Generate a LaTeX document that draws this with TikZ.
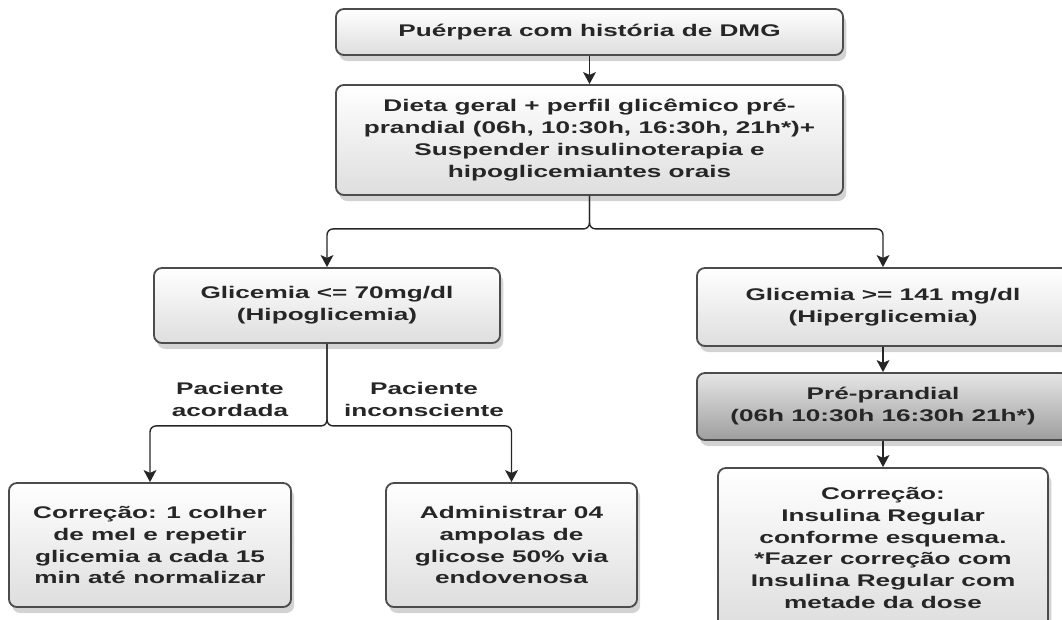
\documentclass[tikz,border=0pt]{standalone}
\usepackage{fontspec}
\setmainfont{Liberation Sans}[FakeStretch=1.55]
\usetikzlibrary{arrows.meta,shadows}

\begin{document}
\begin{tikzpicture}[
		x=0.025cm, y=-0.025cm,
		font=\fontsize{12}{15.6}\selectfont\bfseries
	]
	\tikzset{
		caixa/.style = {rectangle, rounded corners=0.2cm, draw=black!70, line width=1.3pt, align=center, top color=white, bottom color=black!13, inner sep=0pt, text=black!85, drop shadow={shadow xshift=0.08cm, shadow yshift=-0.15cm, opacity=0.35}},
		caixaesc/.style = {caixa, top color=black!10, bottom color=black!38},
		rotulo/.style = {align=center, text=black!85},
		seta/.style = {-{Stealth[length=0.3cm, width=0.32cm, inset=0.07cm]}, line width=1pt, black!85},
		ramo/.style = {seta, rounded corners=0.15cm},
	}
		\useasboundingbox (0,0) rectangle (1062,619);
		%
		\node[caixa, minimum width=12.675cm, minimum height=1.15cm] at (589.5,32) (puerpera) {Puérpera com história de DMG};
		\node[caixa, minimum width=12.675cm, minimum height=2.75cm] at (589.5,140) (dieta) {Dieta geral + perfil glicêmico pré-\\prandial (06h, 10:30h, 16:30h, 21h*)+\\Suspender insulinoterapia e\\hipoglicemiantes orais};
		%
		\node[caixa, minimum width=8.65cm, minimum height=1.875cm] at (327,305.5) (hipo) {Glicemia <= 70mg/dl\\(Hipoglicemia)};
		\node[caixa, minimum width=9.3cm, minimum height=1.95cm] at (883,307) (hiper) {Glicemia >= 141 mg/dl\\(Hiperglicemia)};
		\node[caixaesc, minimum width=9.3cm, minimum height=1.675cm] at (883,406.5) (pre) {Pré-prandial\\(06h 10:30h 16:30h 21h*)};
		\node[caixa, minimum width=8.25cm, minimum height=4cm] at (883,548) (insulina) {Correção:\\Insulina Regular\\conforme esquema.\\*Fazer correção com\\Insulina Regular com\\metade da dose};
		%
		\node[caixa, minimum width=7.05cm, minimum height=3.1cm] at (150,545) (mel) {Correção: 1 colher\\de mel e repetir\\glicemia a cada 15\\min até normalizar};
		\node[caixa, minimum width=6.275cm, minimum height=3.1cm] at (511.5,545) (glicose) {Administrar 04\\ampolas de\\glicose 50\% via\\endovenosa};
		%
		\node[rotulo] at (230,399) (acordada) {Paciente\\acordada};
		\node[rotulo] at (424,399) (inconsciente) {Paciente\\inconsciente};
		%
		\draw[seta] (puerpera) -- (dieta);
		\draw[ramo] (dieta.south) -- ++(0,33) -| (hipo.north);
		\draw[ramo] (dieta.south) -- ++(0,33) -| (hiper.north);
		\draw[seta] (hiper) -- (pre);
		\draw[seta] (pre) -- (insulina);
		%
		\draw[ramo] (hipo.south) -- ++(0,82) -| (mel.north);
		\draw[ramo] (hipo.south) -- ++(0,82) -| (glicose.north);
	\end{tikzpicture}
\end{document}
